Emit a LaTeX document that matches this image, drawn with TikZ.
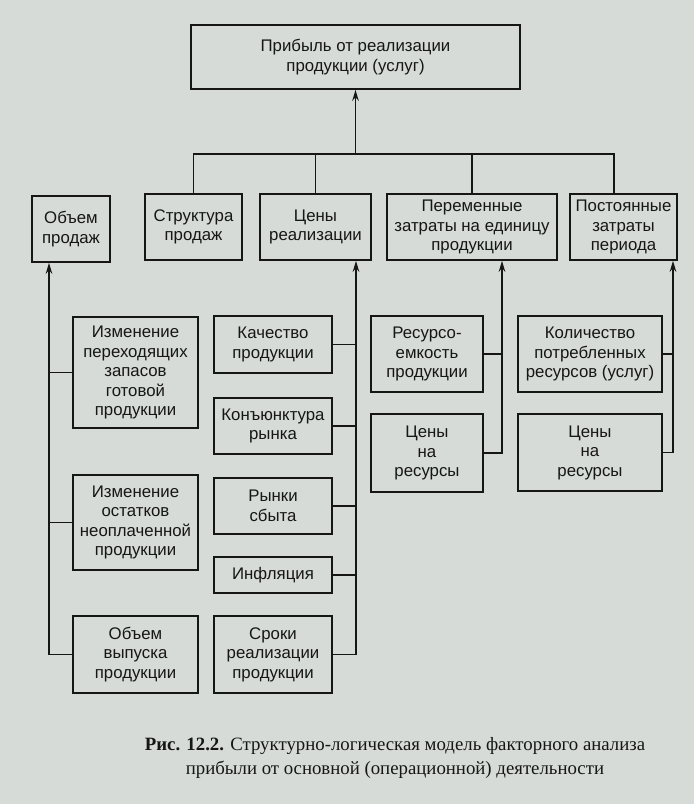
\documentclass[tikz,border=0pt]{standalone}
\usepackage{fontspec}
\setmainfont{Liberation Sans}
\newfontfamily\capfont{Liberation Serif}
\usetikzlibrary{arrows.meta}
\definecolor{paper}{RGB}{214,219,215}
\definecolor{ink}{RGB}{22,22,22}
\tikzset{
  box/.style={draw=ink, line width=1.6pt, inner sep=0pt, align=center, text=ink,
              font=\fontsize{16.8}{19.5}\selectfont},
  conn/.style={draw=ink, line width=1.6pt},
  arr/.style={conn, -{Stealth[length=11pt,width=6.5pt]}}
}
\begin{document}
\begin{tikzpicture}[x=1pt,y=-1pt]
\fill[paper] (0,0) rectangle (694,804);
\useasboundingbox (0,0) rectangle (694,804);
% top
\node[box, minimum width=329, minimum height=64] (top) at (355.5,57) {Прибыль от реализации\\продукции (услуг)};
% row 2
\node[box, minimum width=78, minimum height=66] (obm) at (71,229) {Объем\\продаж};
\node[box, minimum width=97, minimum height=66] (str) at (193.5,227) {Структура\\продаж};
\node[box, minimum width=111, minimum height=66] (cen) at (315.5,227) {Цены\\реализации};
\node[box, minimum width=170, minimum height=66] (per) at (472,227) {Переменные\\затраты на единицу\\продукции};
\node[box, minimum width=107, minimum height=66] (pos) at (623.5,227) {Постоянные\\затраты\\периода};
% left column
\node[box, minimum width=125, minimum height=111] (izm1) at (135.5,372.5) {Изменение\\переходящих\\запасов\\готовой\\продукции};
\node[box, minimum width=125, minimum height=95] (izm2) at (135.5,522.5) {Изменение\\остатков\\неоплаченной\\продукции};
\node[box, minimum width=125, minimum height=77] (vyp) at (135.5,654.5) {Объем\\выпуска\\продукции};
% middle column
\node[box, minimum width=118, minimum height=57] (kach) at (273,344.5) {Качество\\продукции};
\node[box, minimum width=118, minimum height=56] (kon) at (273,426) {Конъюнктура\\рынка};
\node[box, minimum width=118, minimum height=56] (ryn) at (273,506) {Рынки\\сбыта};
\node[box, minimum width=118, minimum height=36] (inf) at (273,575) {Инфляция};
\node[box, minimum width=118, minimum height=77] (srok) at (273,654.5) {Сроки\\реализации\\продукции};
% right columns
\node[box, minimum width=112, minimum height=76] (res) at (427,354) {Ресурсо-\\емкость\\продукции};
\node[box, minimum width=112, minimum height=78] (cr1) at (427,453) {Цены\\на\\ресурсы};
\node[box, minimum width=144, minimum height=76] (kol) at (590,354) {Количество\\потребленных\\ресурсов (услуг)};
\node[box, minimum width=144, minimum height=77] (cr2) at (590,452.5) {Цены\\на\\ресурсы};
% coordinates
\coordinate (bus) at (355.5,154);
\coordinate (pT) at ([xshift=-9.5pt]pos.north);
\coordinate (aL) at ([xshift=-22pt]obm.south);
\coordinate (aC) at ([xshift=40.5pt]cen.south);
\coordinate (aP) at ([xshift=30pt]per.south);
\coordinate (aQ) at ([xshift=49.5pt]pos.south);
% top bus
\draw[conn] (str.north) -- (str.north |- bus) -- (pT |- bus) -- (pT);
\draw[conn] (cen.north) -- (cen.north |- bus);
\draw[conn] (per.north) -- (per.north |- bus);
\draw[arr] (bus) -- (top.south);
% left spine
\draw[arr] (vyp.west) -| (aL);
\draw[conn] (izm1.west) -- (izm1.west -| aL);
\draw[conn] (izm2.west) -- (izm2.west -| aL);
% middle spine
\draw[arr] (srok.east) -| (aC);
\draw[conn] (kach.east) -- (kach.east -| aC);
\draw[conn] (kon.east) -- (kon.east -| aC);
\draw[conn] (ryn.east) -- (ryn.east -| aC);
\draw[conn] (inf.east) -- (inf.east -| aC);
% right spines
\draw[arr] (cr1.east) -| (aP);
\draw[conn] (res.east) -- (res.east -| aP);
\draw[arr] (cr2.east) -| (aQ);
\draw[conn] (kol.east) -- (kol.east -| aQ);
% caption
\node[align=center, text=ink, font=\capfont\fontsize{18.8}{24.5}\selectfont] (cap) at (395,758)
  {\textbf{Рис. 12.2.} Структурно-логическая модель факторного анализа\\прибыли от основной (операционной) деятельности};
\end{tikzpicture}
\end{document}
